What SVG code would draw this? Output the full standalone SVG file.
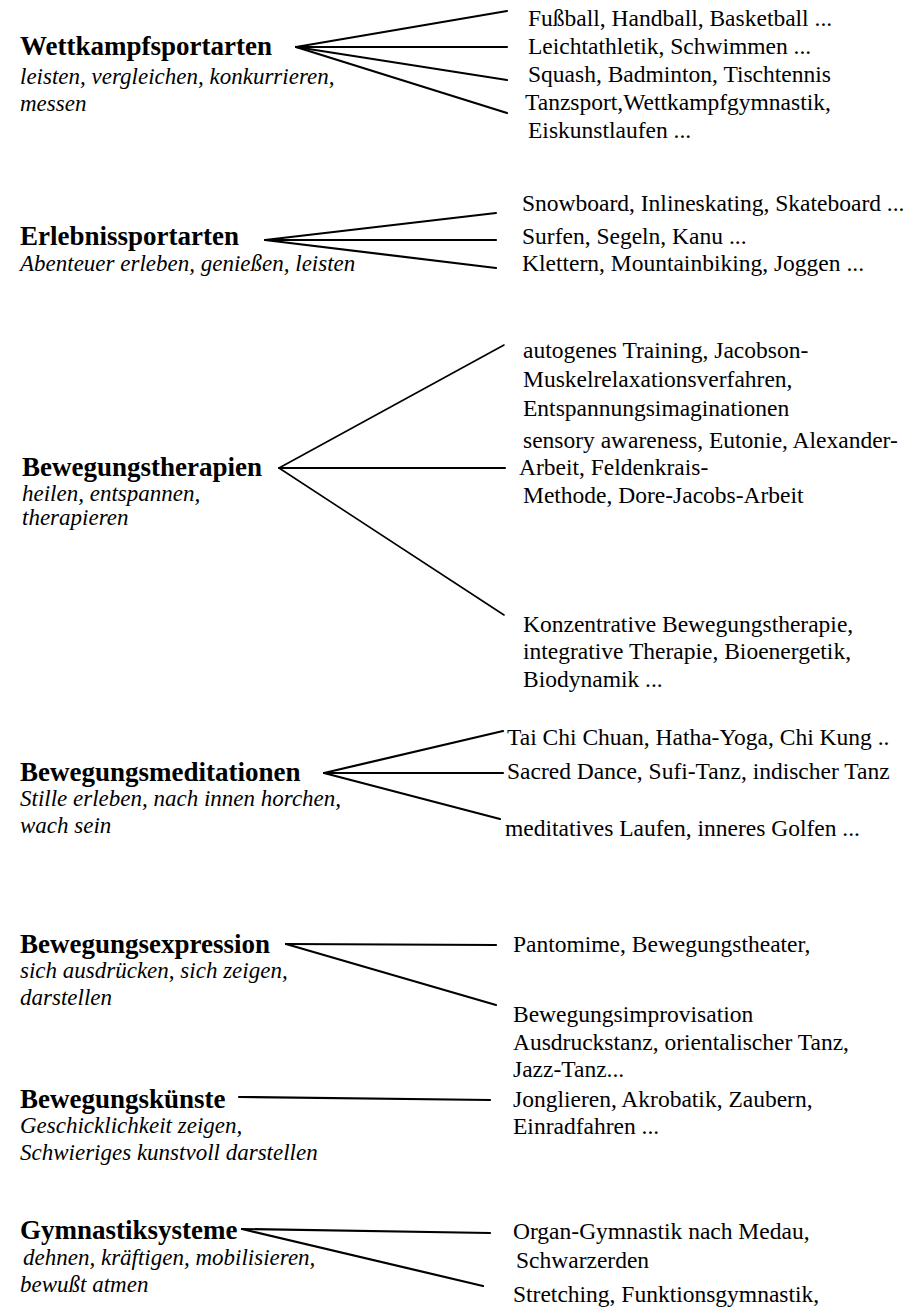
<svg xmlns="http://www.w3.org/2000/svg" width="909" height="1309" viewBox="0 0 909 1309">
<style>
text{font-family:"Liberation Serif","Times New Roman",serif;fill:#000}
.h{font-size:27px;font-weight:bold}
.s{font-size:23px;font-style:italic}
.t{font-size:23.5px}
.c line{stroke:#000;stroke-width:2.2;stroke-linecap:round}
.c line.thin{stroke-width:1.6}
</style>
<rect width="909" height="1309" fill="#fff"/>
<g id="n1">
<text class="h" x="20" y="55">Wettkampfsportarten</text>
<text class="s" x="20" y="84">leisten, vergleichen, konkurrieren,</text>
<text class="s" x="20" y="111">messen</text>
</g>
<g id="n1a"><text class="t" x="528" y="26">Fußball, Handball, Basketball ...</text></g>
<g id="n1b"><text class="t" x="528" y="54">Leichtathletik, Schwimmen ...</text></g>
<g id="n1c"><text class="t" x="528" y="82">Squash, Badminton, Tischtennis</text></g>
<g id="n1d"><text class="t" x="525" y="110">Tanzsport,Wettkampfgymnastik,</text>
<text class="t" x="528" y="138">Eiskunstlaufen ...</text></g>

<g id="n2">
<text class="h" x="20" y="245">Erlebnissportarten</text>
<text class="s" x="20" y="271">Abenteuer erleben, genießen, leisten</text>
</g>
<g id="n2a"><text class="t" x="522" y="211">Snowboard, Inlineskating, Skateboard ...</text></g>
<g id="n2b"><text class="t" x="522" y="244">Surfen, Segeln, Kanu ...</text></g>
<g id="n2c"><text class="t" x="522" y="271">Klettern, Mountainbiking, Joggen ...</text></g>

<g id="n3">
<text class="h" x="22" y="476">Bewegungstherapien</text>
<text class="s" x="22" y="501">heilen, entspannen,</text>
<text class="s" x="22" y="525">therapieren</text>
</g>
<g id="n3a"><text class="t" x="523" y="358">autogenes Training, Jacobson-</text>
<text class="t" x="523" y="387">Muskelrelaxationsverfahren,</text>
<text class="t" x="523" y="416">Entspannungsimaginationen</text></g>
<g id="n3b"><text class="t" x="523" y="448">sensory awareness, Eutonie, Alexander-</text>
<text class="t" x="519" y="475">Arbeit, Feldenkrais-</text>
<text class="t" x="523" y="503">Methode, Dore-Jacobs-Arbeit</text></g>
<g id="n3c"><text class="t" x="523" y="632">Konzentrative Bewegungstherapie,</text>
<text class="t" x="523" y="659">integrative Therapie, Bioenergetik,</text>
<text class="t" x="523" y="687">Biodynamik ...</text></g>

<g id="n4">
<text class="h" x="20" y="781">Bewegungsmeditationen</text>
<text class="s" x="20" y="806">Stille erleben, nach innen horchen,</text>
<text class="s" x="20" y="833">wach sein</text>
</g>
<g id="n4a"><text class="t" x="507" y="745">Tai Chi Chuan, Hatha-Yoga, Chi Kung ..</text></g>
<g id="n4b"><text class="t" x="507" y="779">Sacred Dance, Sufi-Tanz, indischer Tanz</text></g>
<g id="n4c"><text class="t" x="505" y="836">meditatives Laufen, inneres Golfen ...</text></g>

<g id="n5">
<text class="h" x="20" y="953">Bewegungsexpression</text>
<text class="s" x="20" y="978">sich ausdrücken, sich zeigen,</text>
<text class="s" x="20" y="1005">darstellen</text>
</g>
<g id="n5a"><text class="t" x="513" y="952">Pantomime, Bewegungstheater,</text></g>
<g id="n5b"><text class="t" x="513" y="1022">Bewegungsimprovisation</text>
<text class="t" x="513" y="1050">Ausdruckstanz, orientalischer Tanz,</text>
<text class="t" x="513" y="1077">Jazz-Tanz...</text></g>

<g id="n6">
<text class="h" x="20" y="1108">Bewegungskünste</text>
<text class="s" x="20" y="1133">Geschicklichkeit zeigen,</text>
<text class="s" x="20" y="1160">Schwieriges kunstvoll darstellen</text>
</g>
<g id="n6a"><text class="t" x="513" y="1107">Jonglieren, Akrobatik, Zaubern,</text>
<text class="t" x="513" y="1134">Einradfahren ...</text></g>

<g id="n7">
<text class="h" x="20" y="1239">Gymnastiksysteme</text>
<text class="s" x="23" y="1265">dehnen, kräftigen, mobilisieren,</text>
<text class="s" x="20" y="1292">bewußt atmen</text>
</g>
<g id="n7a"><text class="t" x="513" y="1239">Organ-Gymnastik nach Medau,</text>
<text class="t" x="516" y="1268">Schwarzerden</text></g>
<g id="n7b"><text class="t" x="513" y="1302">Stretching, Funktionsgymnastik,</text></g>

<g id="connectors" class="c">
<line x1="296" y1="47" x2="507" y2="11"/>
<line x1="296" y1="47" x2="507" y2="47"/>
<line x1="296" y1="47" x2="507" y2="80"/>
<line x1="296" y1="47" x2="507" y2="113"/>

<line x1="265" y1="240" x2="496" y2="213"/>
<line x1="265" y1="240" x2="496" y2="240"/>
<line x1="265" y1="240" x2="496" y2="268"/>

<line class="thin" x1="279" y1="468" x2="504" y2="345"/>
<line x1="279" y1="468" x2="505" y2="468"/>
<line class="thin" x1="279" y1="468" x2="504" y2="615"/>

<line x1="324" y1="773" x2="503" y2="731"/>
<line x1="324" y1="773" x2="503" y2="773"/>
<line x1="324" y1="773" x2="500" y2="819"/>

<line x1="286" y1="944" x2="496" y2="945"/>
<line x1="286" y1="944" x2="496" y2="1005"/>

<line x1="239" y1="1097" x2="490" y2="1100"/>

<line x1="242" y1="1229" x2="490" y2="1233"/>
<line x1="242" y1="1229" x2="483" y2="1286"/>
</g>
</svg>
